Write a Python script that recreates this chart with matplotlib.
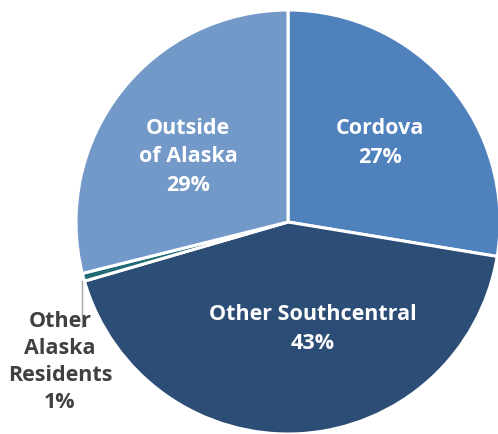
import matplotlib
matplotlib.use("Agg")
import matplotlib.pyplot as plt

categories = ["Cordova", "Other Southcentral", "Other Alaska Residents", "Outside of Alaska"]
values = [27.6, 42.9, 0.6, 28.9]
pct_labels = ["27%", "43%", "1%", "29%"]
colors = ["#4F81BD", "#2C4D75", "#1F6B75", "#7399C9"]

fig = plt.figure(figsize=(4.98, 4.34), dpi=100)
ax = fig.add_axes([76/498, 0, 424/498, 424/434])

wedges, _ = ax.pie(values, colors=colors, startangle=90, counterclock=False,
                   radius=1.0, center=(0, 0),
                   wedgeprops=dict(edgecolor="white", linewidth=2.2))
ax.set_xlim(-1, 1)
ax.set_ylim(-1, 1)
ax.set_aspect("equal")
ax.axis("off")

font = "Open Sans"
tkw = dict(ha="center", va="center", fontweight="bold", fontsize=15.5,
           family=font, linespacing=1.45, transform=fig.transFigure)

def fx(px):
    return px / 498
def fy(py):
    return 1 - py / 434

fig.text(fx(380), fy(143), "Cordova\n" + pct_labels[0], color="white", **tkw)
fig.text(fx(313), fy(329), "Other Southcentral\n" + pct_labels[1], color="white", **tkw)
fig.text(fx(188), fy(157), "Outside\nof Alaska\n" + pct_labels[3], color="white", **tkw)
fig.text(fx(60), fy(362), "Other\nAlaska\nResidents\n" + pct_labels[2], color="#404040",
         **{**tkw, "linespacing": 1.38})

fig.add_artist(plt.Line2D([fx(82), fx(82)], [fy(281), fy(327)], color="#A6A6A6",
                          linewidth=1.0, transform=fig.transFigure))

fig.savefig("out.png", dpi=100)
